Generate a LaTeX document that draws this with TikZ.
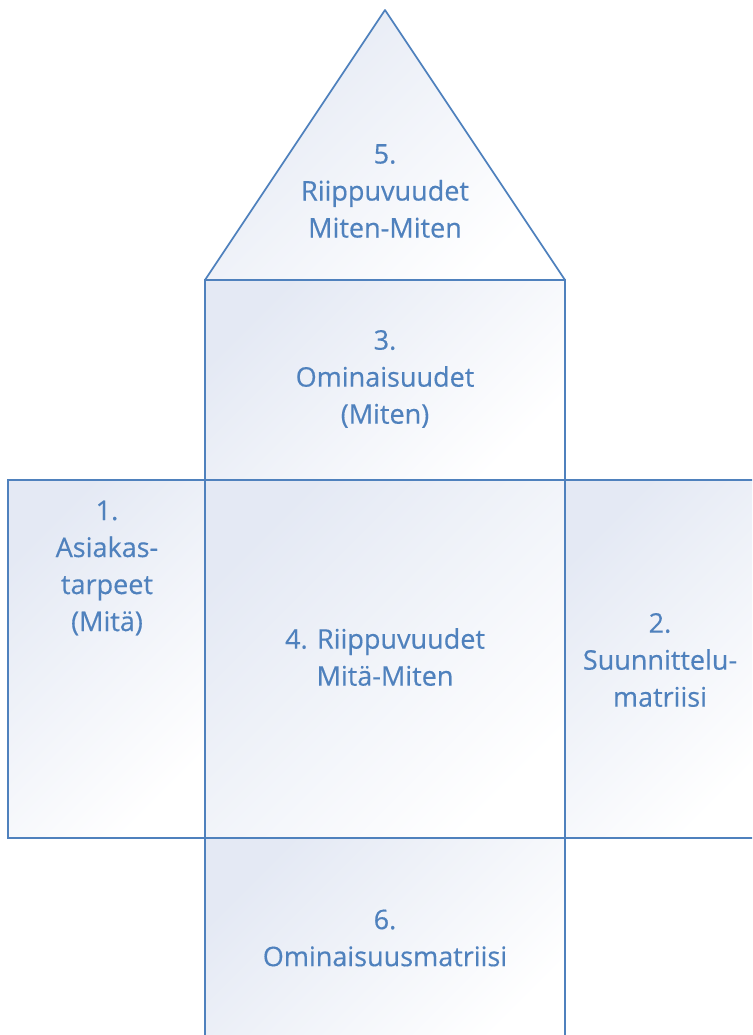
\documentclass[tikz,border=0pt]{standalone}
\usepackage{fontspec}
\setmainfont{Open Sans}[FakeBold=0.4]
\definecolor{qline}{HTML}{4F81BD}
\definecolor{qtext}{HTML}{4F81BD}
\definecolor{qshade}{HTML}{E4E9F4}
\tikzset{
  qbox/.style={draw=qline, line width=1.7pt, inner sep=0pt, outer sep=0pt,
    shading=axis, top color=qshade, bottom color=white, shading angle=45},
  qtxt/.style={text=qtext, align=center, inner sep=0pt,
    font=\fontsize{27}{37}\selectfont},
}
\begin{document}
\begin{tikzpicture}[x=1pt,y=-1pt]
\useasboundingbox (0,0) rectangle (752,1035);
\clip (0,0) rectangle (752,1035);
% roof
\draw[qbox, line join=round] (385,10) -- (565,280) -- (205,280) -- cycle;
% boxes
\node[qbox, minimum width=360pt, minimum height=200pt, anchor=north west] (b3) at (205,280) {};
\node[qbox, minimum width=197pt, minimum height=358pt, anchor=north west] (b1) at (8,480) {};
\node[qbox, minimum width=360pt, minimum height=358pt, anchor=north west] (b4) at (205,480) {};
\node[qbox, minimum width=200pt, minimum height=358pt, anchor=north west] (b2) at (565,480) {};
\node[qbox, minimum width=360pt, minimum height=210pt, anchor=north west] (b6) at (205,838) {};
% texts
\node[qtxt] (t5) at (385,191) {5.\\Riippuvuudet\\Miten-Miten};
\node[qtxt] (t3) at (385,379) {3.\\Ominaisuudet\\(Miten)};
\node[qtxt] (t1) at (107,568) {1.\\Asiakas-\\tarpeet\\(Mitä)};
\node[qtxt] (t4) at (385,657) {4. Riippuvuudet\\Mitä-Miten};
\node[qtxt] (t2) at (660,660) {2.\\Suunnittelu-\\matriisi};
\node[qtxt] (t6) at (385,938) {6.\\Ominaisuusmatriisi};
\end{tikzpicture}
\end{document}
